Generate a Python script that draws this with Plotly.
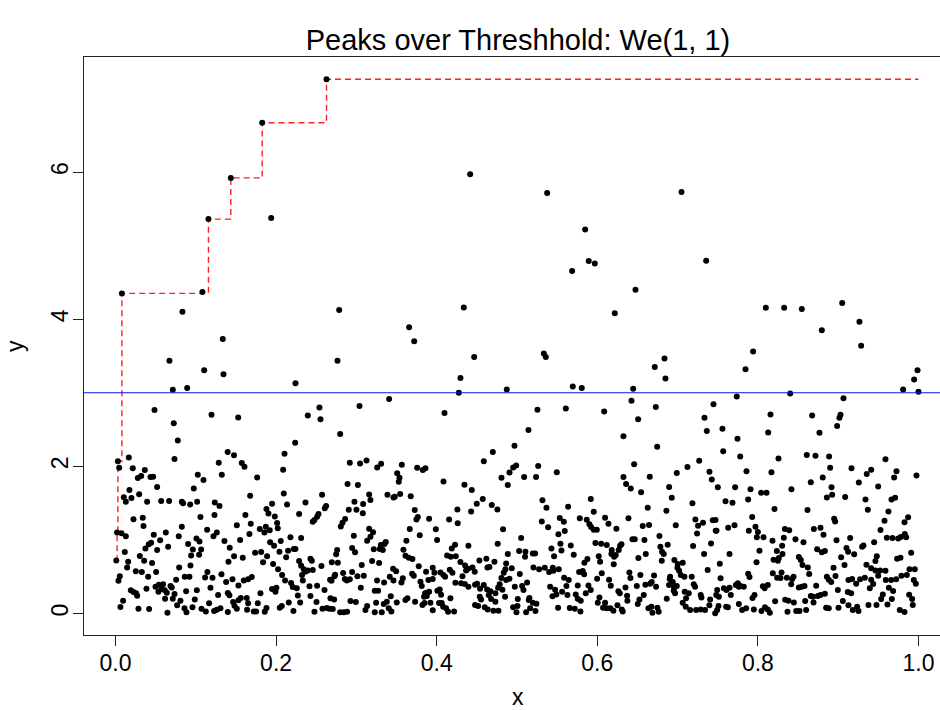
import numpy as np
import plotly.graph_objects as go

TITLE = "Peaks over Threshhold: We(1, 1)"
threshold = 3.0
x_ticks = [0.0, 0.2, 0.4, 0.6, 0.8, 1.0]
y_ticks = [0, 2, 4, 6]

# record (running-maximum) observations
pts_records = [(0.001, 0.72), (0.002, 1.10), (0.003, 2.07), (0.008, 4.35), (0.1083, 4.37),
               (0.1158, 5.36), (0.1436, 5.92), (0.1827, 6.67), (0.2628, 7.26)]

# observations above ~3
pts_high = [(0.1939, 5.375), (0.0834, 4.10), (0.1336, 3.73), (0.2786, 4.125),
            (0.4417, 5.97), (0.5376, 5.715), (0.5849, 5.22), (0.5894, 4.79), (0.5969, 4.755),
            (0.5687, 4.655), (0.6476, 4.40), (0.6218, 4.08), (0.4338, 4.16), (0.3657, 3.89),
            (0.3720, 3.70), (0.7049, 5.73), (0.7356, 4.795), (0.8099, 4.155), (0.8327, 4.155),
            (0.8547, 4.14), (0.9050, 4.22), (0.9265, 3.965), (0.8796, 3.85), (0.9286, 3.64),
            (0.0672, 3.435), (0.0714, 3.04), (0.0893, 3.065), (0.1105, 3.305), (0.1345, 3.25),
            (0.2242, 3.13), (0.2765, 3.435), (0.4467, 3.485), (0.4296, 3.20), (0.4276, 3.00),
            (0.4873, 3.045), (0.5334, 3.535), (0.5359, 3.485), (0.5695, 3.085), (0.5807, 3.065),
            (0.6716, 3.35), (0.6837, 3.465), (0.6849, 3.195), (0.6447, 3.055), (0.7941, 3.56),
            (0.7846, 3.32), (0.9988, 3.305), (0.9946, 3.18), (0.9809, 3.045), (1.0000, 3.015)]

# observations roughly between 1.7 and 3
pts_mid = [(0.0486, 2.765), (0.0726, 2.585), (0.1196, 2.70), (0.1528, 2.665), (0.0776, 2.35),
           (0.2238, 2.32), (0.2105, 2.17), (0.0166, 2.12), (0.0735, 2.10), (0.1397, 2.195),
           (0.1476, 2.15), (0.1286, 2.05), (0.1573, 2.045), (0.1606, 1.995), (0.0046, 1.98),
           (0.0215, 1.975), (0.0365, 1.95), (0.0278, 1.84), (0.0320, 1.87), (0.0436, 1.855),
           (0.0469, 1.86), (0.0519, 1.72), (0.1025, 1.885), (0.1096, 1.815), (0.1324, 1.885),
           (0.1764, 1.85), (0.2088, 1.955), (0.0975, 1.70), (0.0174, 1.68),
           (0.3408, 2.915), (0.2540, 2.80), (0.2395, 2.69), (0.2553, 2.64), (0.3039, 2.82),
           (0.4097, 2.725), (0.2798, 2.44), (0.4699, 2.195), (0.4587, 2.07), (0.2918, 2.05),
           (0.3046, 2.04), (0.3126, 2.08), (0.3259, 1.985), (0.3308, 2.035), (0.3566, 2.02),
           (0.3508, 1.905), (0.3537, 1.845), (0.3528, 1.79), (0.3757, 1.98), (0.3827, 1.95),
           (0.3860, 1.975), (0.2890, 1.76), (0.3019, 1.745), (0.4085, 1.795), (0.4346, 1.75),
           (0.4437, 1.68), (0.4807, 1.845), (0.4885, 1.745), (0.4907, 1.915),
           (0.5255, 2.77), (0.5608, 2.785), (0.6086, 2.745), (0.6729, 2.805), (0.7447, 2.845),
           (0.7335, 2.66), (0.7364, 2.48), (0.6509, 2.64), (0.5143, 2.495), (0.6326, 2.41),
           (0.6746, 2.265), (0.4969, 2.28), (0.6459, 2.03), (0.7269, 2.075), (0.7123, 1.99),
           (0.6990, 1.91), (0.7397, 1.925), (0.7426, 1.82), (0.7501, 1.715), (0.4953, 1.985),
           (0.4990, 2.01), (0.5264, 2.005), (0.5089, 1.855), (0.5238, 1.855), (0.5496, 1.92),
           (0.6326, 1.855), (0.6359, 1.76), (0.6417, 1.70), (0.6654, 1.86), (0.6895, 1.72),
           (0.6426, 2.89),
           (0.7737, 2.95), (0.8402, 2.99), (0.9066, 2.925), (0.8157, 2.705), (0.8676, 2.69),
           (0.9029, 2.70), (0.9016, 2.66), (0.8987, 2.55), (0.7559, 2.51), (0.8128, 2.46),
           (0.7746, 2.375), (0.8767, 2.455), (0.7568, 2.205), (0.7780, 2.135), (0.8257, 2.105),
           (0.8609, 2.155), (0.8717, 2.145), (0.8887, 2.135), (0.9589, 2.095), (0.7858, 1.935),
           (0.8169, 1.92), (0.8900, 1.98), (0.9166, 1.975), (0.9411, 1.955), (0.9356, 1.895),
           (0.9726, 1.935), (0.9697, 1.85), (0.9975, 1.875), (0.8808, 1.85), (0.8659, 1.785),
           (0.9257, 1.78), (0.9498, 1.725), (0.8917, 1.715), (0.7717, 1.715), (0.7908, 1.69),
           (0.8418, 1.69)]

# dense band, x in [0, 0.23)
pts_low_a = [(0.0295, 1.62), (0.0104, 1.58), (0.0129, 1.52), (0.0199, 1.57), (0.0394, 1.52),
             (0.0569, 1.53), (0.0668, 1.53), (0.0826, 1.52), (0.0842, 1.50), (0.0930, 1.48),
             (0.1017, 1.52), (0.1237, 1.51), (0.1295, 1.46), (0.1677, 1.60), (0.2096, 1.63),
             (0.2137, 1.48), (0.1880, 1.42), (0.1950, 1.49), (0.1905, 1.36), (0.1984, 1.32),
             (0.2013, 1.23), (0.1618, 1.34), (0.1233, 1.34), (0.1058, 1.31), (0.0224, 1.28),
             (0.0340, 1.30), (0.0349, 1.19), (0.0826, 1.18), (0.1685, 1.22), (0.1511, 1.20),
             (0.1797, 1.15), (0.1872, 1.18), (0.1855, 1.10), (0.1921, 1.13), (0.2021, 1.16),
             (0.0075, 1.09), (0.0129, 1.05), (0.0477, 1.07), (0.0627, 1.10), (0.0788, 1.05),
             (0.1141, 1.14), (0.1220, 1.05), (0.1262, 1.10), (0.1357, 0.985), (0.1552, 1.00),
             (0.1668, 1.08), (0.2179, 1.035), (0.1926, 0.97), (0.1975, 0.92), (0.2058, 0.985),
             (0.1008, 1.02), (0.1046, 0.98), (0.0905, 0.944), (0.0963, 0.87), (0.1067, 0.87),
             (0.1042, 0.80), (0.0942, 0.79), (0.0444, 0.96), (0.0415, 0.94), (0.0373, 0.885),
             (0.0556, 0.994), (0.0656, 0.908), (0.0519, 0.863), (0.0116, 0.835), (0.0303, 0.781),
             (0.0357, 0.718), (0.0456, 0.686), (0.0158, 0.704), (0.0145, 0.627), (0.0253, 0.573),
             (0.0328, 0.564), (0.0506, 0.564), (0.0407, 0.50), (0.0793, 0.627), (0.0934, 0.654),
             (0.1423, 0.894), (0.1407, 0.704), (0.1477, 0.777), (0.1585, 0.759), (0.1739, 0.826),
             (0.1814, 0.835), (0.1888, 0.777), (0.1838, 0.695), (0.1963, 0.672), (0.2025, 0.60),
             (0.2042, 0.84), (0.2150, 0.854), (0.2220, 0.876), (0.2125, 0.763), (0.0054, 0.505),
             (0.0037, 0.446), (0.0755, 0.459), (0.0863, 0.50), (0.0921, 0.50), (0.1116, 0.491),
             (0.1145, 0.564), (0.1208, 0.487), (0.1320, 0.532), (0.1378, 0.428), (0.1457, 0.464),
             (0.1531, 0.382), (0.1598, 0.45), (0.1652, 0.464), (0.1697, 0.496), (0.2075, 0.523),
             (0.2112, 0.45), (0.2187, 0.414), (0.2208, 0.36), (0.0191, 0.315), (0.0224, 0.292),
             (0.0257, 0.274), (0.0270, 0.242), (0.0386, 0.337), (0.0498, 0.364), (0.0539, 0.392),
             (0.0593, 0.396), (0.0573, 0.333), (0.0535, 0.296), (0.0614, 0.315), (0.0639, 0.283),
             (0.0685, 0.373), (0.0701, 0.355), (0.0735, 0.265), (0.0880, 0.301), (0.1013, 0.315),
             (0.1183, 0.351), (0.1278, 0.251), (0.1399, 0.278), (0.1419, 0.247), (0.1560, 0.21),
             (0.1531, 0.179), (0.1635, 0.21), (0.1805, 0.274), (0.1950, 0.333), (0.2004, 0.351),
             (0.1992, 0.296), (0.0095, 0.174), (0.0062, 0.088), (0.0286, 0.065), (0.0419, 0.061),
             (0.0618, 0.201), (0.0714, 0.201), (0.0768, 0.111), (0.0809, 0.174), (0.0859, 0.07),
             (0.0884, 0.016), (0.0959, 0.084), (0.0988, 0.192), (0.1071, 0.065), (0.1125, 0.029),
             (0.1166, 0.138), (0.1228, 0.034), (0.1262, 0.052), (0.1307, 0.07), (0.1399, 0.02),
             (0.1465, 0.156), (0.1511, 0.065), (0.1482, 0.106), (0.1652, 0.138), (0.1639, 0.052),
             (0.1722, 0.029), (0.1751, 0.029), (0.1772, 0.138), (0.1880, 0.075), (0.1859, 0.025),
             (0.2046, 0.079), (0.2071, 0.102), (0.2158, 0.151), (0.2216, 0.034), (0.0647, 0.011)]

# dense band, x in [0.22, 0.49)
pts_low_b = [(0.2573, 1.615), (0.2366, 1.51), (0.2287, 1.352), (0.2528, 1.352), (0.2511, 1.316),
             (0.2478, 1.27), (0.2457, 1.248), (0.2607, 1.429), (0.2623, 1.461), (0.2312, 1.026),
             (0.2241, 0.876), (0.2287, 0.713), (0.2428, 0.745), (0.2445, 0.718), (0.2312, 0.65),
             (0.2345, 0.60), (0.2324, 0.523), (0.2362, 0.568), (0.2395, 0.586), (0.2457, 0.591),
             (0.2565, 0.645), (0.2333, 0.45), (0.2258, 0.342), (0.2416, 0.369), (0.2511, 0.378),
             (0.2603, 0.319), (0.2271, 0.246), (0.2428, 0.237), (0.2503, 0.156), (0.2300, 0.151),
             (0.2478, 0.025), (0.2578, 0.065), (0.2632, 0.074), (0.2665, 0.065), (0.2706, 0.061),
             (0.2677, 0.206), (0.2723, 0.192), (0.2673, 0.46), (0.2690, 0.446), (0.2735, 0.527),
             (0.2727, 0.505), (0.2835, 0.55), (0.2856, 0.469), (0.2881, 0.45), (0.2918, 0.464),
             (0.2947, 0.564), (0.3013, 0.505), (0.3092, 0.514), (0.3055, 0.351), (0.2694, 0.695),
             (0.2769, 0.691), (0.2748, 0.804), (0.2760, 0.863), (0.2947, 0.89), (0.2984, 0.831),
             (0.2806, 1.184), (0.2827, 1.234), (0.2860, 1.284), (0.2905, 1.41), (0.2976, 1.52),
             (0.3001, 1.41), (0.3080, 1.361), (0.3084, 1.488), (0.3159, 1.619), (0.3175, 1.542),
             (0.2968, 1.058), (0.3159, 1.153), (0.3208, 1.103), (0.3175, 1.044), (0.3134, 0.99),
             (0.3217, 0.872), (0.3304, 0.931), (0.3350, 0.944), (0.3366, 0.971), (0.3291, 0.876),
             (0.3329, 0.863), (0.3196, 0.713), (0.3283, 0.686), (0.3067, 0.659), (0.3387, 1.615),
             (0.3462, 1.578), (0.3478, 1.587), (0.3545, 1.624), (0.3677, 1.592), (0.3727, 1.406),
             (0.3765, 1.311), (0.3748, 1.279), (0.3906, 1.288), (0.3665, 1.148), (0.3789, 1.062),
             (0.3989, 1.144), (0.4005, 0.999), (0.3623, 0.99), (0.3586, 0.867), (0.3611, 0.786),
             (0.3652, 0.758), (0.3698, 0.74), (0.3777, 0.641), (0.3258, 0.45), (0.3345, 0.423),
             (0.3416, 0.50), (0.3462, 0.45), (0.3457, 0.609), (0.3495, 0.573), (0.3578, 0.478),
             (0.3561, 0.423), (0.3229, 0.31), (0.3271, 0.31), (0.3428, 0.233), (0.3341, 0.129),
             (0.3379, 0.161), (0.3246, 0.147), (0.3134, 0.102), (0.3113, 0.047), (0.3229, 0.016),
             (0.3316, 0.016), (0.3403, 0.07), (0.3436, 0.029), (0.3503, 0.151), (0.3611, 0.183),
             (0.3636, 0.206), (0.2798, 0.016), (0.2843, 0.016), (0.2885, 0.025), (0.2926, 0.17),
             (0.2993, 0.156), (0.3694, 0.541), (0.3715, 0.514), (0.3798, 0.432), (0.3814, 0.373),
             (0.3868, 0.568), (0.3897, 0.455), (0.3951, 0.469), (0.3951, 0.623), (0.3972, 0.555),
             (0.4047, 0.559), (0.4084, 0.523), (0.4105, 0.50), (0.4163, 0.595), (0.4196, 0.555),
             (0.3856, 0.274), (0.3881, 0.283), (0.3906, 0.296), (0.3843, 0.229), (0.3877, 0.238),
             (0.4009, 0.31), (0.4038, 0.328), (0.4055, 0.256), (0.3731, 0.161), (0.3823, 0.115),
             (0.3848, 0.142), (0.3922, 0.147), (0.3951, 0.043), (0.4030, 0.142), (0.4063, 0.142),
             (0.4080, 0.093), (0.4117, 0.07), (0.4171, 0.206), (0.4142, 0.025), (0.4217, 0.029),
             (0.4155, 1.279), (0.4258, 1.415), (0.4262, 1.225), (0.4188, 0.885), (0.4229, 0.935),
             (0.4130, 0.79), (0.4175, 0.772), (0.4238, 0.777), (0.4395, 0.922), (0.4296, 0.70),
             (0.4354, 0.654), (0.4391, 0.609), (0.4366, 0.586), (0.4445, 0.627), (0.4474, 0.568),
             (0.4532, 0.722), (0.4619, 0.745), (0.4657, 0.632), (0.4632, 0.627), (0.4719, 0.704),
             (0.4760, 0.949), (0.4827, 1.144), (0.4756, 1.415), (0.4686, 1.474), (0.4574, 1.556),
             (0.4499, 1.492), (0.4429, 1.388), (0.4321, 0.505), (0.4233, 0.419), (0.4304, 0.41),
             (0.4350, 0.401), (0.4395, 0.364), (0.4478, 0.392), (0.4503, 0.405), (0.4540, 0.337),
             (0.4586, 0.387), (0.4628, 0.328), (0.4648, 0.251), (0.4669, 0.301), (0.4731, 0.274),
             (0.4765, 0.351), (0.4536, 0.229), (0.4553, 0.192), (0.4478, 0.115), (0.4516, 0.102),
             (0.4678, 0.197), (0.4731, 0.161), (0.4599, 0.084), (0.4636, 0.056), (0.4707, 0.038),
             (0.4769, 0.038), (0.4819, 0.324), (0.4785, 0.396), (0.4806, 0.482), (0.4835, 0.555)]

# dense band, x in [0.48, 0.745)
pts_low_c = [(0.6546, 1.647), (0.4886, 0.808), (0.4865, 0.681), (0.4856, 0.60), (0.4935, 0.614),
             (0.4906, 0.473), (0.4865, 0.455), (0.5035, 0.537), (0.4973, 0.364), (0.5064, 0.373),
             (0.5081, 0.319), (0.5126, 0.423), (0.4852, 0.228), (0.5010, 0.197), (0.4952, 0.084),
             (0.5006, 0.102), (0.4993, 0.016), (0.5114, 0.016), (0.5155, 0.21), (0.5147, 0.183),
             (0.5197, 0.147), (0.5242, 0.133), (0.5230, 0.034), (0.5164, 0.07), (0.5052, 1.026),
             (0.5027, 0.849), (0.5105, 0.84), (0.5101, 0.772), (0.5197, 0.817), (0.5226, 0.817),
             (0.5205, 0.627), (0.5276, 0.60), (0.5346, 0.623), (0.5400, 0.564), (0.5446, 0.623),
             (0.5454, 0.582), (0.5520, 0.60), (0.5317, 1.538), (0.5367, 1.438), (0.5309, 1.252),
             (0.5388, 1.171), (0.5516, 1.076), (0.5595, 1.121), (0.5533, 1.298), (0.5583, 1.248),
             (0.5637, 1.452), (0.5541, 0.949), (0.5554, 0.858), (0.5429, 0.885), (0.5462, 0.777),
             (0.5670, 0.926), (0.5707, 0.799), (0.5413, 0.364), (0.5475, 0.324), (0.5491, 0.26),
             (0.5442, 0.233), (0.5562, 0.296), (0.5616, 0.373), (0.5628, 0.251), (0.5587, 0.487),
             (0.5645, 0.455), (0.5512, 0.079), (0.5657, 0.075), (0.5720, 0.065), (0.5790, 0.029),
             (0.5732, 0.26), (0.5757, 0.201), (0.5794, 0.174), (0.5757, 0.382), (0.5774, 0.564),
             (0.5819, 0.577), (0.5836, 0.532), (0.5782, 1.293), (0.5869, 1.275), (0.5919, 1.556),
             (0.5956, 1.384), (0.5902, 1.212), (0.5923, 1.175), (0.5956, 1.139), (0.5994, 1.139),
             (0.5840, 0.691), (0.5877, 0.74), (0.5977, 0.958), (0.6048, 0.949), (0.6118, 0.931),
             (0.6018, 0.777), (0.6035, 0.704), (0.6097, 1.302), (0.6139, 1.221), (0.6238, 1.153),
             (0.5998, 0.473), (0.6056, 0.546), (0.5890, 0.382), (0.5919, 0.319), (0.5857, 0.274),
             (0.6027, 0.219), (0.6006, 0.147), (0.6097, 0.147), (0.6072, 0.079), (0.6118, 0.07),
             (0.6164, 0.07), (0.6201, 0.038), (0.6147, 0.459), (0.6168, 0.378), (0.6180, 0.863),
             (0.6176, 0.808), (0.6209, 0.772), (0.6230, 0.795), (0.6205, 0.668), (0.6267, 0.863),
             (0.6301, 0.94), (0.6284, 0.922), (0.6263, 0.301), (0.6280, 0.274), (0.6251, 0.111),
             (0.6305, 0.056), (0.6317, 0.029), (0.6351, 0.355), (0.6371, 0.242), (0.6375, 0.174),
             (0.6388, 1.293), (0.6400, 0.559), (0.6413, 0.482), (0.6438, 1.008), (0.6467, 1.008),
             (0.6512, 0.754), (0.6492, 0.373), (0.6537, 0.523), (0.6525, 0.192), (0.6504, 0.129),
             (0.6579, 0.251), (0.6566, 1.189), (0.6645, 1.202), (0.6587, 0.999), (0.6604, 0.808),
             (0.6628, 1.438), (0.6599, 0.392), (0.6658, 0.405), (0.6678, 0.428), (0.6707, 0.518),
             (0.6732, 0.364), (0.6637, 0.07), (0.6674, 0.093), (0.6687, 0.011), (0.6749, 0.079),
             (0.6765, 0.025), (0.6774, 1.053), (0.6786, 0.908), (0.6807, 0.84), (0.6828, 0.808),
             (0.6803, 0.718), (0.6877, 0.935), (0.6861, 1.397), (0.6927, 1.574), (0.6977, 1.198),
             (0.6907, 0.50), (0.6902, 0.469), (0.6940, 0.428), (0.6894, 0.387), (0.6956, 0.355),
             (0.6952, 0.31), (0.6990, 0.373), (0.6969, 0.274), (0.6865, 0.201), (0.6960, 0.727),
             (0.7002, 0.672), (0.6998, 0.623), (0.7019, 0.582), (0.7040, 0.523), (0.7064, 0.691),
             (0.7085, 0.50), (0.7089, 0.296), (0.7139, 0.274), (0.7106, 0.206), (0.7064, 0.147),
             (0.7102, 0.093), (0.7156, 0.047), (0.7231, 0.047), (0.7288, 0.056), (0.7342, 0.047),
             (0.7176, 0.50), (0.7201, 0.396), (0.7218, 0.364), (0.7193, 0.917), (0.7185, 1.497),
             (0.7222, 1.279), (0.7255, 1.193), (0.7317, 1.234), (0.7243, 1.089), (0.7330, 0.808),
             (0.7417, 0.953), (0.7438, 1.266), (0.7475, 1.125), (0.7375, 0.591), (0.7288, 0.251),
             (0.7297, 0.219), (0.7396, 0.111), (0.7405, 0.192)]

# dense band, x in [0.745, 1.0]
pts_low_d = [(0.7597, 1.524), (0.7684, 1.506), (0.7879, 1.551), (0.8041, 1.642), (0.8107, 1.642),
             (0.8207, 1.42), (0.8618, 1.406), (0.8859, 1.578), (0.8925, 1.615), (0.9087, 1.583),
             (0.9340, 1.551), (0.9369, 1.411), (0.9664, 1.551), (0.9709, 1.574), (0.9626, 1.388),
             (0.7472, 1.27), (0.7485, 1.125), (0.7630, 1.166), (0.7709, 1.198), (0.7929, 1.311),
             (0.7887, 1.125), (0.7970, 1.18), (0.8000, 1.107), (0.7987, 1.035), (0.8070, 1.035),
             (0.8336, 1.148), (0.8390, 1.13), (0.8323, 1.03), (0.8468, 1.008), (0.8568, 0.967),
             (0.8697, 1.148), (0.8780, 1.166), (0.8817, 1.071), (0.8950, 1.289), (0.8962, 1.252),
             (0.8979, 0.994), (0.9149, 1.026), (0.9527, 1.134), (0.9577, 1.261), (0.9826, 1.239),
             (0.9871, 1.307), (0.9606, 1.03), (0.9676, 1.026), (0.9747, 1.021), (0.9780, 1.039),
             (0.9830, 1.08), (0.9846, 1.035), (0.9448, 0.967), (0.9315, 0.926), (0.9298, 0.908),
             (0.9103, 0.89), (0.9124, 0.84), (0.9199, 0.804), (0.8182, 0.99), (0.8302, 0.922),
             (0.8236, 0.849), (0.8307, 0.808), (0.8020, 0.854), (0.7647, 0.808), (0.8195, 0.731),
             (0.8249, 0.718), (0.8261, 0.754), (0.7983, 0.695), (0.7526, 0.677), (0.8510, 0.768),
             (0.8535, 0.727), (0.8556, 0.659), (0.8622, 0.627), (0.8738, 0.872), (0.8796, 0.831),
             (0.8834, 0.849), (0.9037, 0.763), (0.9079, 0.659), (0.8942, 0.623), (0.9352, 0.663),
             (0.9481, 0.777), (0.9464, 0.713), (0.9734, 0.745), (0.9776, 0.758), (0.9909, 0.826),
             (0.9411, 0.614), (0.9464, 0.586), (0.9523, 0.586), (0.9589, 0.582), (0.9888, 0.60),
             (0.9954, 0.60), (0.7879, 0.541), (0.7896, 0.496), (0.8186, 0.546), (0.8294, 0.559),
             (0.8240, 0.487), (0.8282, 0.482), (0.8361, 0.487), (0.8444, 0.50), (0.8427, 0.469),
             (0.8639, 0.537), (0.7535, 0.478), (0.8859, 0.50), (0.8883, 0.459), (0.8913, 0.428),
             (0.8967, 0.509), (0.9128, 0.455), (0.9174, 0.469), (0.9224, 0.405), (0.9273, 0.464),
             (0.9332, 0.487), (0.9411, 0.459), (0.9436, 0.401), (0.9394, 0.342), (0.9498, 0.514),
             (0.9593, 0.455), (0.9660, 0.455), (0.9722, 0.464), (0.9788, 0.514), (0.9855, 0.523),
             (0.9942, 0.455), (0.9967, 0.405), (0.7576, 0.342), (0.7609, 0.319), (0.7647, 0.351),
             (0.7663, 0.251), (0.7726, 0.387), (0.7751, 0.41), (0.7784, 0.373), (0.7763, 0.364),
             (0.7825, 0.364), (0.7493, 0.319), (0.7514, 0.229), (0.7481, 0.251), (0.8062, 0.369),
             (0.8124, 0.387), (0.8083, 0.342), (0.8415, 0.396), (0.8510, 0.355), (0.8547, 0.364),
             (0.8581, 0.373), (0.8726, 0.378), (0.8996, 0.319), (0.9120, 0.292), (0.9162, 0.274),
             (0.9556, 0.26), (0.9631, 0.351), (0.9684, 0.306), (0.9535, 0.197), (0.9668, 0.197),
             (0.9884, 0.256), (0.9921, 0.197), (0.9929, 0.115), (0.7933, 0.21), (0.7958, 0.251),
             (0.7854, 0.07), (0.7804, 0.047), (0.7763, 0.129), (0.7626, 0.084), (0.7605, 0.093),
             (0.7493, 0.047), (0.7468, 0.002), (0.7510, 0.102), (0.7950, 0.056), (0.8045, 0.034),
             (0.8087, 0.084), (0.8149, 0.011), (0.8124, 0.056), (0.8215, 0.165), (0.8340, 0.188),
             (0.8381, 0.174), (0.8448, 0.151), (0.8369, 0.025), (0.8477, 0.034), (0.8518, 0.034),
             (0.8589, 0.17), (0.8601, 0.047), (0.8659, 0.237), (0.8693, 0.151), (0.8688, 0.229),
             (0.8747, 0.237), (0.8780, 0.251), (0.8834, 0.269), (0.8850, 0.079), (0.8883, 0.07),
             (0.9004, 0.079), (0.9058, 0.17), (0.9128, 0.111), (0.9182, 0.047), (0.9236, 0.093),
             (0.9253, 0.034), (0.9377, 0.115), (0.9477, 0.115), (0.9614, 0.124), (0.9767, 0.047),
             (0.9826, 0.02)]

groups = [pts_records, pts_high, pts_mid, pts_low_a, pts_low_b, pts_low_c, pts_low_d]
all_pts = [p for g in groups for p in g]
x_all = np.array([p[0] for p in all_pts])
y_all = np.array([p[1] for p in all_pts])

# running maximum (records) drawn as a step line
order = np.argsort(x_all, kind="stable")
xs = x_all[order]
cm = np.maximum.accumulate(y_all[order])
keep = np.r_[True, np.diff(cm) > 0]
keep[-1] = True
step_x = xs[keep]
step_y = cm[keep]

FONT = "Liberation Sans, Arial, Helvetica, sans-serif"

fig = go.Figure()
fig.add_trace(go.Scatter(x=step_x, y=step_y, mode="lines", line_shape="hv",
                         line=dict(color="#ff2020", width=1.4, dash="6px,4px"),
                         hoverinfo="skip", showlegend=False))
fig.add_trace(go.Scatter(x=x_all, y=y_all, mode="markers",
                         marker=dict(color="black", size=6, line=dict(width=0)),
                         showlegend=False))
fig.add_hline(y=threshold, line=dict(color="#1010ff", width=1.2))

fig.update_layout(
    width=940, height=710,
    margin=dict(l=84, r=0, t=57, b=75),
    paper_bgcolor="white", plot_bgcolor="white",
    font=dict(family=FONT, color="black", size=23),
    showlegend=False,
    title=dict(text=TITLE, x=518 / 940, xref="container", xanchor="center",
               y=1 - 40 / 710, yref="container", yanchor="middle",
               font=dict(size=29, family=FONT, color="black")),
    xaxis=dict(range=[-0.0392, -0.0392 + 856 / 803], tickvals=x_ticks,
               ticktext=[f"{v:.1f}" for v in x_ticks],
               showgrid=False, zeroline=False, showline=True, mirror=True,
               linecolor="#222", linewidth=1.3, ticks="outside", ticklen=10,
               tickcolor="#222", tickwidth=1.3, tickfont=dict(size=23),
               ticklabelstandoff=-3),
    yaxis=dict(range=[-0.292, 7.563], tickvals=y_ticks,
               ticktext=[str(v) for v in y_ticks], tickangle=-90,
               showgrid=False, zeroline=False, showline=True, mirror=False,
               linecolor="#222", linewidth=1.3, ticks="outside", ticklen=10,
               tickcolor="#222", tickwidth=1.3, tickfont=dict(size=23),
               ticklabelstandoff=-4),
    annotations=[
        dict(text="x", xref="paper", yref="paper", x=(518 - 84) / 856, y=(635 - 697) / 578,
             xanchor="center", yanchor="middle", showarrow=False, font=dict(size=23)),
        dict(text="y", xref="paper", yref="paper", x=(15 - 84) / 856, y=0.5, textangle=-90,
             xanchor="center", yanchor="middle", showarrow=False, font=dict(size=23)),
    ],
)

fig.write_html("out.html", config={"displayModeBar": False},
               post_script="document.body.style.margin='0px';document.body.style.overflow='hidden';")
